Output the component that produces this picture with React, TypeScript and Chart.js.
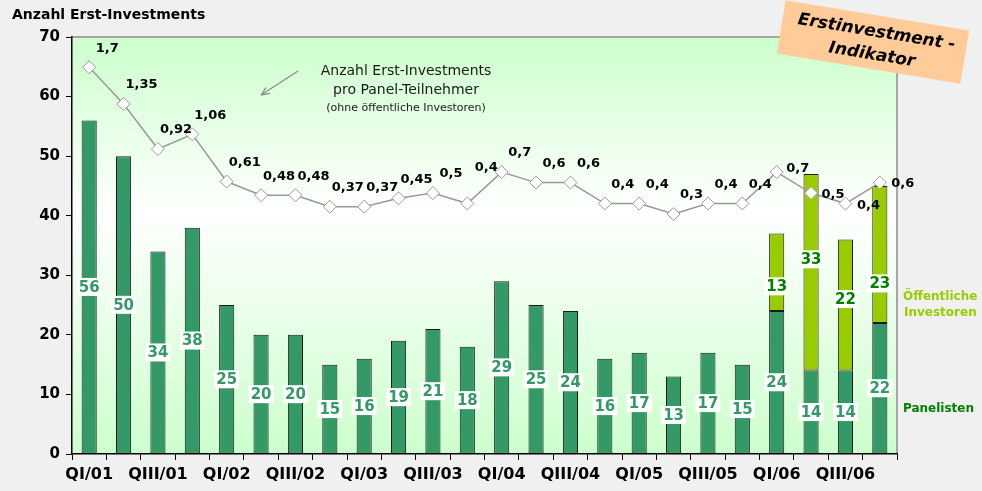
import React, { useEffect, useRef } from 'react';
import { Chart, registerables } from 'chart.js';

Chart.register(...registerables);

const quarters = [
  'QI/01', 'QII/01', 'QIII/01', 'QIV/01',
  'QI/02', 'QII/02', 'QIII/02', 'QIV/02',
  'QI/03', 'QII/03', 'QIII/03', 'QIV/03',
  'QI/04', 'QII/04', 'QIII/04', 'QIV/04',
  'QI/05', 'QII/05', 'QIII/05', 'QIV/05',
  'QI/06', 'QII/06', 'QIII/06', 'QIV/06',
];
const panelisten = [56, 50, 34, 38, 25, 20, 20, 15, 16, 19, 21, 18, 29, 25, 24, 16, 17, 13, 17, 15, 24, 14, 14, 22];
const oeffentliche: (number | null)[] = [
  null, null, null, null, null, null, null, null, null, null, null, null,
  null, null, null, null, null, null, null, null, 13, 33, 22, 23,
];
const ratio = [1.7, 1.35, 0.92, 1.06, 0.61, 0.48, 0.48, 0.37, 0.37, 0.45, 0.5, 0.4, 0.7, 0.6, 0.6, 0.4, 0.4, 0.3, 0.4, 0.4, 0.7, 0.5, 0.4, 0.6];
const yTicks = [0, 10, 20, 30, 40, 50, 60, 70];

const FONT = '"DejaVu Sans", Verdana, sans-serif';
const GREEN = '#339966';
const LIME = '#99cc00';
const DARK = '#008000';

// ratio axis chosen so the indicator line sits where it does in the reference
const RATIO_SPAN = 35 / 17.6;

const lineLabelOffset = (i: number): [number, number] => {
  if (i === 11) return [19, -36];
  if (i === 20) return [21, -3];
  if (i === 21) return [22, 2];
  if (i === 22) return [23, 2];
  if (i === 23) return [23, 1];
  return [18, -19];
};
const publicLabelShift: Record<number, number> = { 20: 14, 21: -13, 22: -6, 23: 29 };

function boxLabel(ctx: CanvasRenderingContext2D, text: string, x: number, y: number, color: string) {
  ctx.font = `bold 15px ${FONT}`;
  const w = ctx.measureText(text).width + 4;
  const h = 18;
  ctx.fillStyle = '#ffffff';
  ctx.fillRect(x - w / 2, y - h / 2, w, h);
  ctx.fillStyle = color;
  ctx.textAlign = 'center';
  ctx.textBaseline = 'middle';
  ctx.fillText(text, x, y + 1);
}

const decorPlugin = {
  id: 'decor',
  beforeDraw(chart: any) {
    const { ctx, chartArea: a, width, height } = chart;
    ctx.save();
    ctx.fillStyle = '#f0f0f0';
    ctx.fillRect(0, 0, width, height);
    const g = ctx.createLinearGradient(0, a.top, 0, a.bottom);
    g.addColorStop(0, '#ccffcc');
    g.addColorStop(0.42, '#ffffff');
    g.addColorStop(1, '#ccffcc');
    ctx.fillStyle = g;
    ctx.fillRect(a.left, a.top, a.right - a.left, a.bottom - a.top);
    ctx.strokeStyle = '#a6a6a6';
    ctx.lineWidth = 2;
    ctx.beginPath();
    ctx.moveTo(a.left, a.top);
    ctx.lineTo(a.right, a.top);
    ctx.lineTo(a.right, a.bottom);
    ctx.stroke();
    ctx.restore();
  },
  afterDatasetsDraw(chart: any) {
    const ctx: CanvasRenderingContext2D = chart.ctx;
    ctx.save();
    // bar labels
    const m0 = chart.getDatasetMeta(0);
    m0.data.forEach((el: any, i: number) => {
      const v = panelisten[i];
      if (v == null) return;
      boxLabel(ctx, String(v), el.x, (el.y + el.base) / 2, GREEN);
    });
    const m1 = chart.getDatasetMeta(1);
    m1.data.forEach((el: any, i: number) => {
      const v = oeffentliche[i];
      if (v == null) return;
      boxLabel(ctx, String(v), el.x, (el.y + el.base) / 2 + (publicLabelShift[i] || 0), DARK);
    });
    // line labels
    const m2 = chart.getDatasetMeta(2);
    ctx.font = `bold 13px ${FONT}`;
    ctx.fillStyle = '#000';
    ctx.textAlign = 'center';
    ctx.textBaseline = 'middle';
    m2.data.forEach((el: any, i: number) => {
      const [dx, dy] = lineLabelOffset(i);
      ctx.fillText(String(ratio[i]).replace('.', ','), el.x + dx, el.y + dy);
    });
    ctx.restore();
  },
  afterDraw(chart: any) {
    const ctx: CanvasRenderingContext2D = chart.ctx;
    ctx.save();
    // title
    ctx.fillStyle = '#000';
    ctx.font = `bold 14px ${FONT}`;
    ctx.textAlign = 'left';
    ctx.textBaseline = 'middle';
    ctx.fillText('Anzahl Erst-Investments', 12, 15);

    // annotation
    ctx.textAlign = 'center';
    ctx.fillStyle = '#1a1a1a';
    ctx.font = `14px ${FONT}`;
    ctx.fillText('Anzahl Erst-Investments', 406, 71);
    ctx.fillText('pro Panel-Teilnehmer', 406, 90);
    ctx.font = `11px ${FONT}`;
    ctx.fillText('(ohne öffentliche Investoren)', 406, 108);

    // arrow
    ctx.strokeStyle = '#8c8c8c';
    ctx.fillStyle = '#8c8c8c';
    ctx.lineWidth = 1.3;
    const x1 = 298, y1 = 71, x2 = 261, y2 = 95;
    ctx.beginPath();
    ctx.moveTo(x1, y1);
    ctx.lineTo(x2, y2);
    ctx.stroke();
    const ang = Math.atan2(y2 - y1, x2 - x1);
    ctx.beginPath();
    ctx.moveTo(x2, y2);
    ctx.lineTo(x2 - 9 * Math.cos(ang - 0.4), y2 - 9 * Math.sin(ang - 0.4));
    ctx.moveTo(x2, y2);
    ctx.lineTo(x2 - 9 * Math.cos(ang + 0.4), y2 - 9 * Math.sin(ang + 0.4));
    ctx.stroke();

    // right-side legend
    ctx.textAlign = 'left';
    ctx.font = `bold 12px ${FONT}`;
    ctx.fillStyle = LIME;
    ctx.fillText('Öffentliche', 903, 297);
    ctx.fillText('Investoren', 904, 313);
    ctx.fillStyle = DARK;
    ctx.fillText('Panelisten', 903, 409);

    // orange badge
    ctx.translate(873, 42);
    ctx.rotate((9.3 * Math.PI) / 180);
    ctx.fillStyle = '#ffcc99';
    ctx.fillRect(-93, -27, 186, 54);
    ctx.fillStyle = '#000';
    ctx.textAlign = 'center';
    ctx.font = `italic bold 17px ${FONT}`;
    ctx.fillText('Erstinvestment -', 2, -10);
    ctx.fillText('Indikator', 1, 13);
    ctx.restore();
  },
};

export default function App() {
  const ref = useRef<HTMLCanvasElement | null>(null);

  useEffect(() => {
    document.body.style.margin = '0';
    document.body.style.background = '#f0f0f0';
    if (!ref.current) return;
    const tickFont = { family: FONT, size: 15, weight: 'bold' as const };
    const chart = new Chart(ref.current, {
      type: 'bar',
      data: {
        labels: quarters,
        datasets: [
          {
            type: 'bar',
            label: 'Panelisten',
            data: panelisten,
            backgroundColor: GREEN,
            borderColor: '#1a1a1a',
            borderWidth: 1,
            borderSkipped: false,
            categoryPercentage: 1,
            barPercentage: 0.44,
            order: 1,
            yAxisID: 'y',
          },
          {
            type: 'bar',
            label: 'Öffentliche Investoren',
            data: oeffentliche,
            backgroundColor: LIME,
            borderColor: '#1a1a1a',
            borderWidth: 1,
            borderSkipped: false,
            categoryPercentage: 1,
            barPercentage: 0.44,
            order: 2,
            yAxisID: 'y',
          },
          {
            type: 'line',
            label: 'Erst-Investments pro Panel-Teilnehmer',
            data: ratio,
            borderColor: '#999999',
            borderWidth: 1.5,
            pointStyle: 'rectRot',
            pointRadius: 6.5,
            pointBackgroundColor: '#ffffff',
            pointBorderColor: '#999999',
            pointBorderWidth: 1,
            tension: 0,
            order: 0,
            yAxisID: 'y2',
          },
        ],
      } as any,
      options: {
        responsive: false,
        animation: false,
        layout: { padding: { left: 0, right: 85, top: 37, bottom: 0 } },
        plugins: {
          legend: { display: false },
          tooltip: { enabled: false },
          title: { display: false },
        },
        scales: {
          x: {
            stacked: true,
            grid: { drawOnChartArea: false, tickLength: 6, color: '#000', lineWidth: 1, offset: true },
            border: { color: '#000', width: 1.5 },
            ticks: {
              autoSkip: false,
              maxRotation: 0,
              minRotation: 0,
              color: '#000',
              padding: 5,
              font: { family: FONT, size: 16, weight: 'bold' },
              callback: (_v: any, i: number) => (i % 2 === 0 ? quarters[i] : ''),
            },
            afterFit: (s: any) => {
              s.height = 37;
            },
          },
          y: {
            stacked: true,
            min: yTicks[0],
            max: yTicks[yTicks.length - 1],
            grid: { drawOnChartArea: false, tickLength: 6, color: '#000', lineWidth: 1 },
            border: { color: '#000', width: 1.5 },
            afterBuildTicks: (s: any) => {
              s.ticks = yTicks.map((v) => ({ value: v }));
            },
            ticks: { color: '#000', padding: 6, font: tickFont },
            afterFit: (s: any) => {
              s.width = 72;
            },
          },
          y2: {
            display: false,
            stacked: false,
            min: -RATIO_SPAN,
            max: RATIO_SPAN,
          },
        },
      } as any,
      plugins: [decorPlugin],
    });
    return () => chart.destroy();
  }, []);

  return (
    <div style={{ width: 982, height: 491 }}>
      <canvas ref={ref} width={982} height={491} style={{ display: 'block' }} />
    </div>
  );
}
